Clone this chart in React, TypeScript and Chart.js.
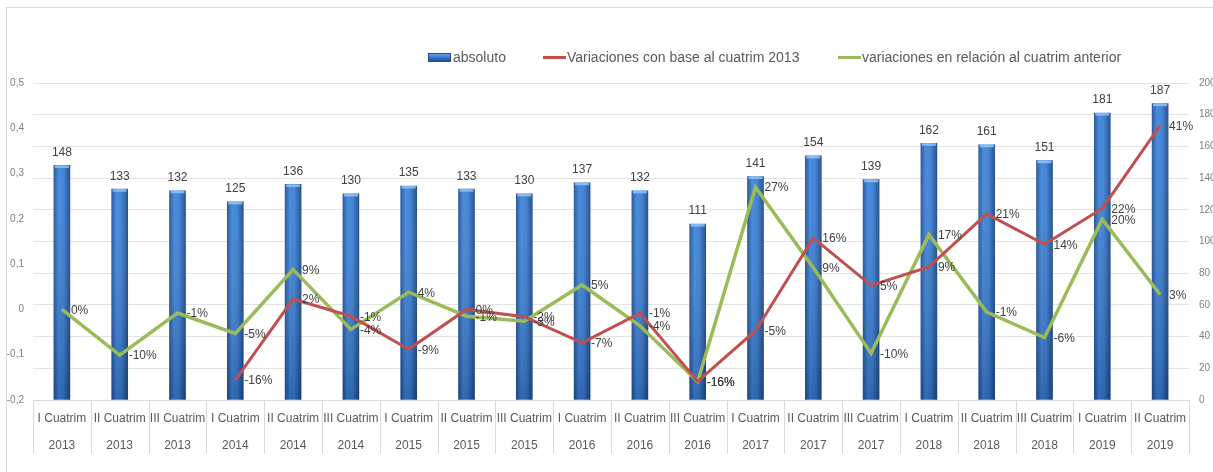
import React, { useEffect, useRef } from "react";
import { Chart, registerables } from "chart.js";

Chart.register(...registerables);

const quarters = [
  "I Cuatrim", "II Cuatrim", "III Cuatrim",
  "I Cuatrim", "II Cuatrim", "III Cuatrim",
  "I Cuatrim", "II Cuatrim", "III Cuatrim",
  "I Cuatrim", "II Cuatrim", "III Cuatrim",
  "I Cuatrim", "II Cuatrim", "III Cuatrim",
  "I Cuatrim", "II Cuatrim", "III Cuatrim",
  "I Cuatrim", "II Cuatrim",
];
const years = [
  "2013", "2013", "2013", "2014", "2014", "2014", "2015", "2015", "2015", "2016",
  "2016", "2016", "2017", "2017", "2017", "2018", "2018", "2018", "2019", "2019",
];
const absoluto = [148, 133, 132, 125, 136, 130, 135, 133, 130, 137, 132, 111, 141, 154, 139, 162, 161, 151, 181, 187];
const variacionBase2013 = [null, null, null, -0.156, 0.023, -0.015, -0.088, 0.0, -0.016, -0.074, -0.008, -0.159, -0.047, 0.158, 0.053, 0.094, 0.211, 0.144, 0.223, 0.406];
const variacionAnterior = [0.0, -0.101, -0.008, -0.053, 0.088, -0.044, 0.038, -0.015, -0.026, 0.054, -0.036, -0.159, 0.27, 0.092, -0.097, 0.165, -0.006, -0.062, 0.199, 0.033];
const leftTicks = { min: -0.2, max: 0.5, step: 0.1 };
const rightTicks = { min: 0, max: 200, step: 20 };

const FONT = "'Liberation Sans', Arial, sans-serif";
const BAR_W = 16;

const pct = (v: number) => `${Math.round(v * 100)}%`;

const dividerPlugin = {
  id: "dividers",
  afterDraw(chart: any) {
    const xs = chart.scales.x;
    const { ctx, chartArea } = chart;
    ctx.save();
    ctx.strokeStyle = "#d9d9d9";
    ctx.lineWidth = 1;
    for (let i = 0; i <= quarters.length; i++) {
      const x = Math.round(xs.getPixelForValue(i - 0.5)) + 0.5;
      ctx.beginPath();
      ctx.moveTo(x, chartArea.bottom);
      ctx.lineTo(x, chartArea.bottom + 54);
      ctx.stroke();
    }
    ctx.restore();
  },
};

const barShadePlugin = {
  id: "barShade",
  afterDatasetDraw(chart: any, args: any) {
    if (chart.data.datasets[args.index].type !== "bar") return;
    const { ctx } = chart;
    ctx.save();
    args.meta.data.forEach((el: any) => {
      const w = el.width;
      const left = el.x - w / 2;
      const g = ctx.createLinearGradient(0, el.y, 0, el.base);
      g.addColorStop(0, "rgba(255,255,255,0.05)");
      g.addColorStop(1, "rgba(0,10,40,0.22)");
      ctx.fillStyle = g;
      ctx.fillRect(left, el.y, w, el.base - el.y);
      ctx.fillStyle = "rgba(150,195,245,0.85)";
      ctx.fillRect(left + 1, el.y, w - 2, 2.5);
    });
    ctx.restore();
  },
};

const labelPlugin = {
  id: "valueLabels",
  afterDatasetsDraw(chart: any) {
    const { ctx } = chart;
    ctx.save();
    ctx.font = `12px ${FONT}`;
    ctx.fillStyle = "#404040";
    chart.data.datasets.forEach((ds: any, di: number) => {
      const meta = chart.getDatasetMeta(di);
      meta.data.forEach((el: any, i: number) => {
        const v = ds.data[i];
        if (v === null || v === undefined) return;
        if (ds.type === "bar") {
          ctx.textAlign = "center";
          ctx.textBaseline = "middle";
          ctx.fillText(String(v), el.x, el.y - 13);
        } else {
          ctx.textAlign = "left";
          ctx.textBaseline = "middle";
          ctx.fillText(pct(v), el.x + 9, el.y + 1);
        }
      });
    });
    ctx.restore();
  },
};

export default function App() {
  const ref = useRef<HTMLCanvasElement | null>(null);

  useEffect(() => {
    if (!ref.current) return;
    const labels = quarters.map((q, i) => [q, years[i]]);
    const chart = new Chart(ref.current, {
      data: {
        labels,
        datasets: [
          {
            type: "line",
            label: "Variaciones con base al cuatrim 2013",
            data: variacionBase2013,
            borderColor: "#C0504D",
            backgroundColor: "#C0504D",
            borderWidth: 3,
            pointRadius: 0,
            tension: 0,
            yAxisID: "y",
            order: 1,
          },
          {
            type: "line",
            label: "variaciones en relación al cuatrim anterior",
            data: variacionAnterior,
            borderColor: "#9BBB59",
            backgroundColor: "#9BBB59",
            borderWidth: 3.5,
            pointRadius: 0,
            tension: 0,
            yAxisID: "y",
            order: 2,
          },
          {
            type: "bar",
            label: "absoluto",
            data: absoluto,
            barThickness: BAR_W,
            borderWidth: 0,
            backgroundColor: (c: any) => {
              const chart = c.chart;
              const xs = chart.scales && chart.scales.x;
              if (!xs || c.dataIndex === undefined) return "#3070c4";
              const cx = xs.getPixelForValue(c.dataIndex);
              if (!isFinite(cx)) return "#3070c4";
              const g = chart.ctx.createLinearGradient(cx - BAR_W / 2, 0, cx + BAR_W / 2, 0);
              g.addColorStop(0, "#24549a");
              g.addColorStop(0.3, "#3f86da");
              g.addColorStop(0.6, "#3b7fd3");
              g.addColorStop(1, "#1e4b8a");
              return g;
            },
            yAxisID: "y1",
            order: 3,
          },
        ],
      } as any,
      options: {
        animation: false,
        responsive: false,
        maintainAspectRatio: false,
        layout: { padding: { top: 83, left: 0, right: 0, bottom: 0 } },
        plugins: {
          legend: { display: false },
          tooltip: { enabled: false },
          title: { display: false },
        },
        scales: {
          x: {
            type: "category",
            offset: true,
            grid: { display: false, drawTicks: false },
            border: { display: true, color: "#d9d9d9" },
            ticks: {
              autoSkip: false,
              maxRotation: 0,
              minRotation: 0,
              padding: 5.5,
              color: "#595959",
              font: { family: FONT, size: 12, lineHeight: 2.25 },
            },
            afterFit: (s: any) => {
              s.height = 72;
            },
          },
          y: {
            type: "linear",
            position: "left",
            min: leftTicks.min,
            max: leftTicks.max,
            grid: { display: false, drawTicks: false },
            border: { display: false },
            ticks: {
              stepSize: leftTicks.step,
              padding: 9,
              color: "#808080",
              font: { family: FONT, size: 10 },
              callback: (v: any) => {
                const n = Number(v);
                if (Math.abs(n) < 1e-9) return "0";
                return n.toFixed(1).replace(".", ",");
              },
            },
            afterFit: (s: any) => {
              s.width = 33;
            },
          },
          y1: {
            type: "linear",
            position: "right",
            min: rightTicks.min,
            max: rightTicks.max,
            grid: { display: true, color: "#e3e3e3", drawTicks: false },
            border: { display: false },
            ticks: {
              stepSize: rightTicks.step,
              padding: 10,
              color: "#808080",
              font: { family: FONT, size: 10 },
            },
            afterFit: (s: any) => {
              s.width = 24;
            },
          },
        },
      } as any,
      plugins: [barShadePlugin, dividerPlugin, labelPlugin],
    });
    return () => chart.destroy();
  }, []);

  const legendText: React.CSSProperties = {
    position: "absolute",
    top: 49,
    fontFamily: FONT,
    fontSize: 14,
    lineHeight: "17px",
    color: "#595959",
    whiteSpace: "nowrap",
  };

  return (
    <div
      style={{
        position: "absolute",
        left: 0,
        top: 0,
        width: 1213,
        height: 472,
        overflow: "hidden",
        background: "#fff",
      }}
    >
      <div
        style={{
          position: "absolute",
          left: 6,
          top: 7,
          width: 1240,
          height: 500,
          border: "1px solid #d9d9d9",
          boxSizing: "border-box",
        }}
      />
      <canvas
        ref={ref}
        width={1213}
        height={472}
        style={{ position: "absolute", left: 0, top: 0, width: 1213, height: 472 }}
      />
      <div
        style={{
          position: "absolute",
          left: 428,
          top: 53,
          width: 23,
          height: 9,
          boxSizing: "border-box",
          border: "1px solid #1f4e8c",
          background: "linear-gradient(#6aa4ea, #2f6cc0 60%, #24569b)",
        }}
      />
      <div style={{ ...legendText, left: 453 }}>absoluto</div>
      <div style={{ position: "absolute", left: 543, top: 56, width: 23, height: 3, background: "#C0504D" }} />
      <div style={{ ...legendText, left: 567 }}>Variaciones con base al cuatrim 2013</div>
      <div style={{ position: "absolute", left: 838, top: 56, width: 23, height: 3, background: "#9BBB59" }} />
      <div style={{ ...legendText, left: 862 }}>variaciones en relación al cuatrim anterior</div>
    </div>
  );
}
